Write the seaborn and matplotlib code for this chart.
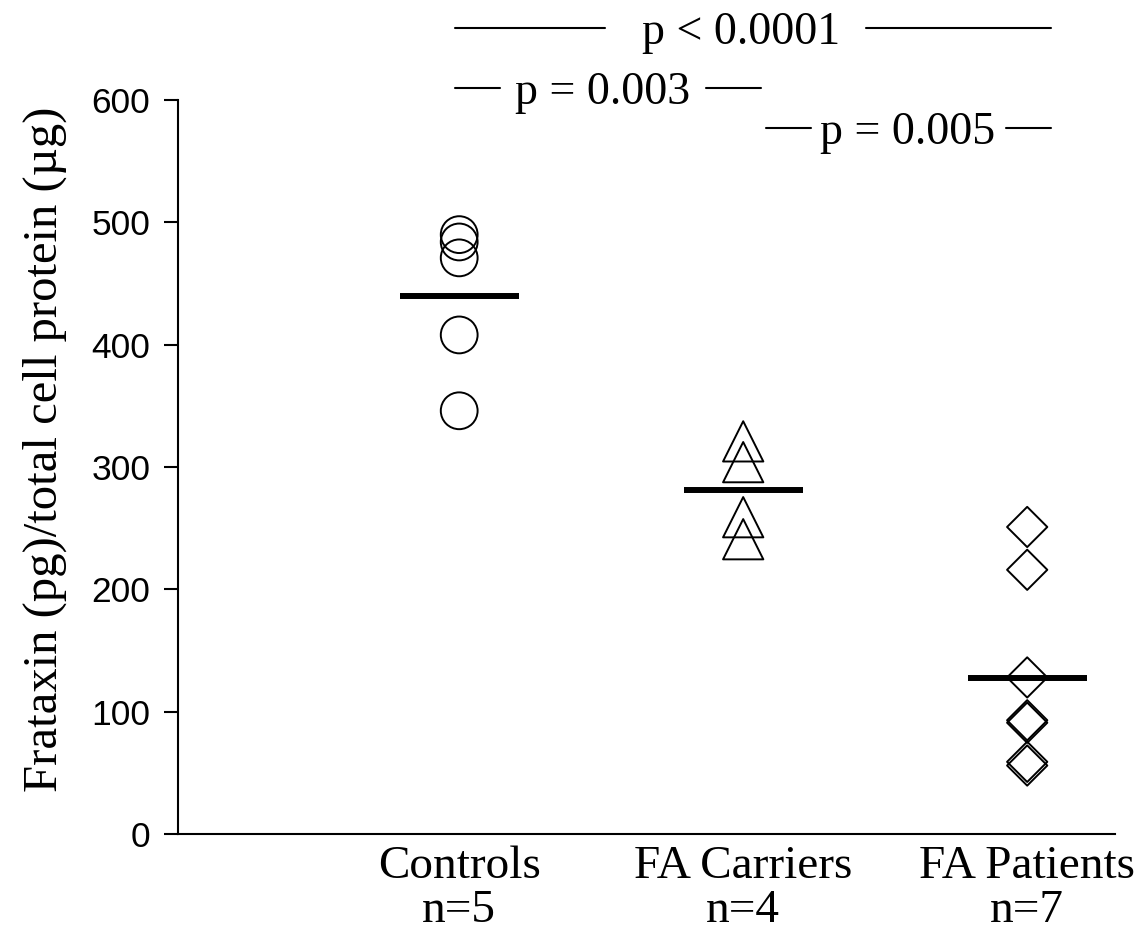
import numpy as np
import pandas as pd
import matplotlib
matplotlib.use("Agg")
import matplotlib.pyplot as plt
import seaborn as sns

# values
GROUPS = ["Controls", "FA Carriers", "FA Patients"]
controls = [490, 484, 471, 408, 346]
carriers = [321, 304, 259, 241]
patients = [251, 216, 128, 93, 91, 59, 56]
MARKERS = ["o", "^", "D"]
P_LABELS = ["p < 0.0001", "p = 0.003", "p = 0.005"]

df = pd.DataFrame({
    "group": ["Controls"] * len(controls) + ["FA Carriers"] * len(carriers)
    + ["FA Patients"] * len(patients),
    "value": controls + carriers + patients,
})

sns.set_style("ticks")
plt.rcParams["font.family"] = ["Liberation Serif", "DejaVu Serif"]
plt.rcParams.update({"text.color": "black", "axes.labelcolor": "black",
                     "xtick.color": "black", "ytick.color": "black"})

fig = plt.figure(figsize=(11.45, 9.30), dpi=100)
ax = fig.add_axes([0.1555, 0.1032, 0.8185, 0.7892])

# marker sizes in points (diameter-equivalent)
sizes = {"o": 26.5, "^": 29, "D": 20.5}
for g, m in zip(GROUPS, MARKERS):
    sns.stripplot(
        data=df[df["group"] == g], x="group", y="value", order=GROUPS,
        jitter=False, marker=m, size=sizes[m], color="white",
        edgecolor="black", linewidth=1.4, ax=ax, zorder=3,
    )
for coll in ax.collections:
    coll.set_facecolor("none")
    coll.set_edgecolor("black")

# group means
means = df.groupby("group")["value"].mean().reindex(GROUPS).values
pos = np.arange(len(GROUPS))
ax.hlines(means, pos - 0.21, pos + 0.21, color="black", lw=4.3, zorder=4)

ax.set_ylim(0, 600)
ax.set_xlim(-0.99, 2.31)
ax.set_yticks(np.arange(0, 601, 100))
counts = df.groupby("group").size().reindex(GROUPS).values
ax.set_xticks(pos)
ax.set_xticklabels([f"{g}\nn={n}" for g, n in zip(GROUPS, counts)],
                   fontsize=34, linespacing=1.05)
ax.tick_params(axis="x", length=0, pad=8)
ax.tick_params(axis="y", length=10, width=1.5, pad=10, labelsize=25.5)
for lab in ax.get_yticklabels():
    lab.set_fontfamily("Liberation Sans")
ax.set_xlabel("")
ax.set_ylabel("Frataxin (pg)/total cell protein (\u00b5g)", fontsize=35)
ax.yaxis.set_label_coords(-0.118, 0.5245)
sns.despine(ax=ax)
for s in ["left", "bottom"]:
    ax.spines[s].set_linewidth(1.5)
    ax.spines[s].set_color("black")

# significance annotations (segments left/right of the text)
annots = [
    ((-0.014, 0.515), (1.432, 2.085), 0.991, 659, P_LABELS[0]),
    ((-0.014, 0.145), (0.868, 1.062), 0.504, 610, P_LABELS[1]),
    ((1.079, 1.238), (1.926, 2.085), 1.580, 577, P_LABELS[2]),
]
for left, right, tx, y, lab in annots:
    for seg in (left, right):
        ax.plot(seg, [y, y], color="black", lw=1.5, clip_on=False)
    ax.text(tx, y, lab, ha="center", va="center_baseline", fontsize=33,
            clip_on=False)

fig.savefig("out.png", dpi=100)
